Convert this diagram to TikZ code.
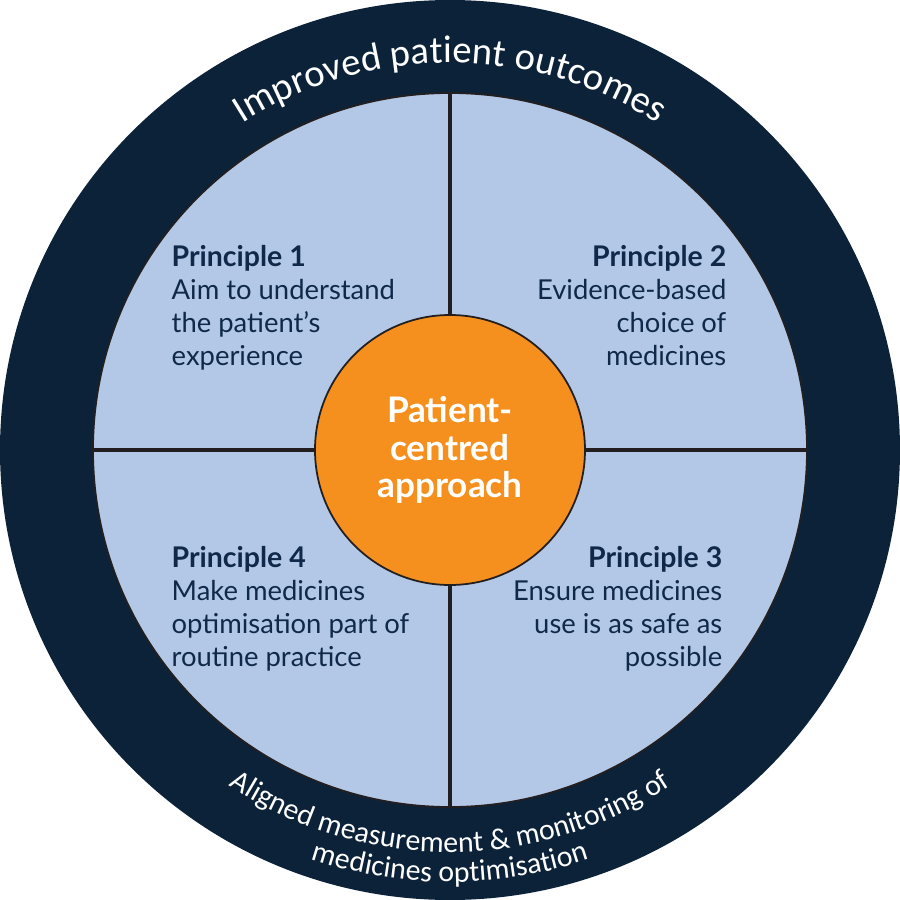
\documentclass[tikz,border=0pt]{standalone}
\usepackage{fontspec}
\setmainfont{Lato}
\newfontfamily\ringfont{Carlito}
\usepackage{xcolor}
\definecolor{navy}{HTML}{0C2239}
\definecolor{inkblue}{HTML}{10294A}
\definecolor{paleblue}{HTML}{B2C8E6}
\definecolor{hubord}{HTML}{F5901F}
\definecolor{rule}{HTML}{231F20}
\usetikzlibrary{%
  arrows.meta,
  positioning,
  decorations,
  decorations.text,
  calc
}
\tikzset{
ringtext/.style args = {#1/#2}{
            decorate,
            decoration={text along path, text align=center,
                        text color=white,
                        text={|\ringfont\fontsize{#1}{11}\selectfont|#2}}},
principle/.style = {
            inner sep=0pt, text=inkblue,
            font=\fontsize{7.8}{9.4}\selectfont}
}

\begin{document}
\begin{tikzpicture}
  \useasboundingbox (-4.5,-4.5) rectangle (4.5,4.5);
  \node[circle, fill=navy, minimum size=9cm, inner sep=0pt] (ring) at (0,0) {};
  \node[circle, fill=paleblue, draw=rule, line width=0.5pt,
        minimum size=7.14cm, inner sep=0pt] (field) at (0,0) {};
  \node[circle, minimum size=2.7cm, inner sep=0pt] (hubspot) at (0,0) {};
  \foreach \a in {north,south,east,west}{
    \draw[rule, line width=1.1pt] (field.\a) -- (hubspot.\a);
  }
  \node[circle, fill=hubord, draw=rule, line width=0.5pt,
        minimum size=2.7cm, inner sep=0pt, text=white, align=center,
        font=\bfseries\fontsize{10}{10.6}\selectfont] (hub) at (0,0)
        {Patient-\\centred\\approach};

  \def\head#1{{\bfseries\fontsize{8.1}{9.4}\selectfont Principle #1}}
  \node[principle, anchor=north west, align=left] (p1) at (-2.79,2.05)
    {\head{1}\\Aim to understand\\the patient’s\\experience};
  \node[principle, anchor=north east, align=right] (p2) at (2.77,2.05)
    {\head{2}\\Evidence-based\\choice of\\medicines};
  \node[principle, anchor=north east, align=right] (p3) at (2.73,-0.96)
    {\head{3}\\Ensure medicines\\use is as safe as\\possible};
  \node[principle, anchor=north west, align=left] (p4) at (-2.79,-0.96)
    {\head{4}\\Make medicines\\optimisation part of\\routine practice};

  \path[ringtext={11/Improved patient outcomes}]
    (150:3.87) arc[start angle=150, end angle=30, radius=3.87];
  \path[ringtext={8.5/Aligned measurement {\&} monitoring of}]
    (205:4.02) arc[start angle=205, end angle=335, radius=4.02];
  \path[ringtext={8.5/medicines optimisation}]
    (225:4.32) arc[start angle=225, end angle=315, radius=4.32];
\end{tikzpicture}
\end{document}
